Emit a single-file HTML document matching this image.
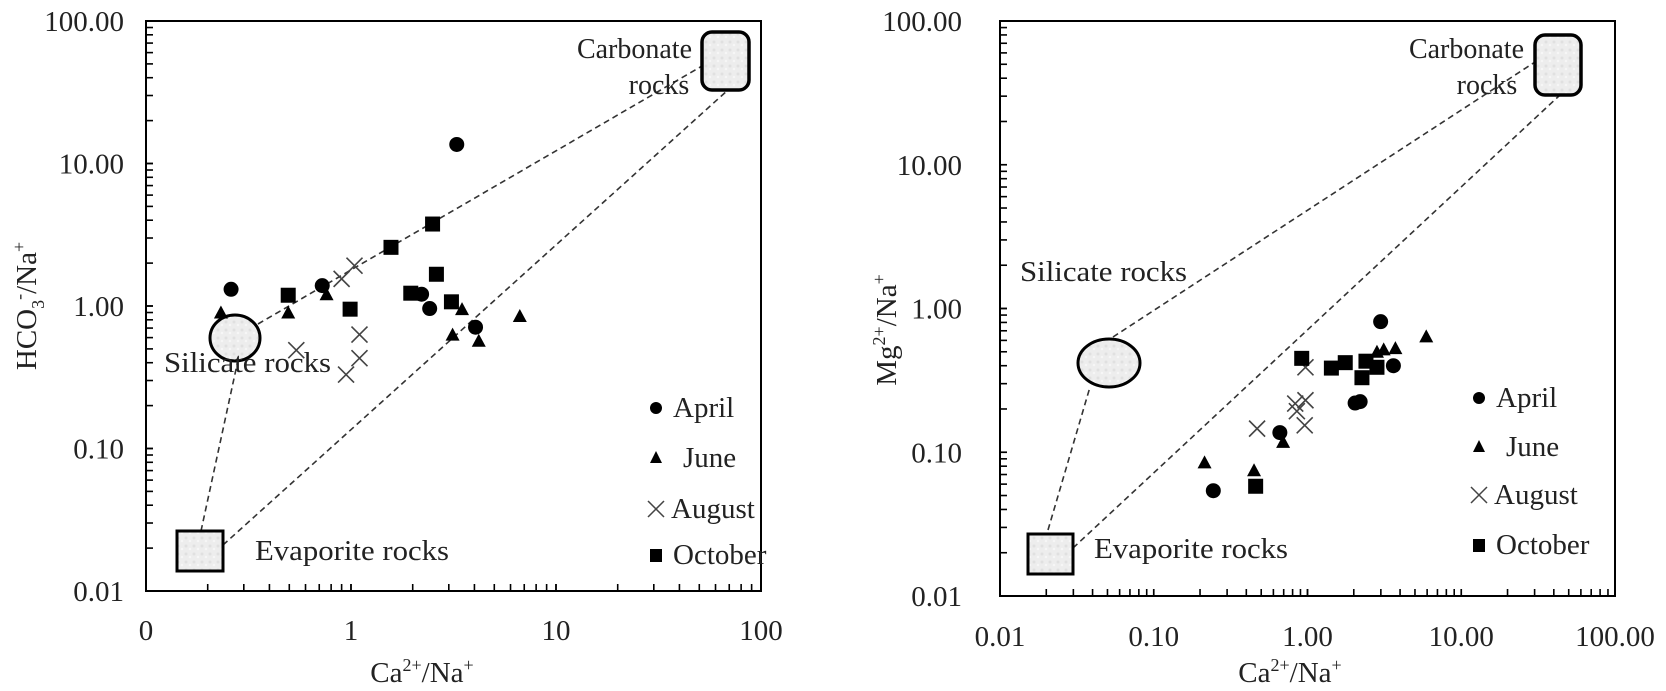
<!DOCTYPE html>
<html><head><meta charset="utf-8"><style>
html,body{margin:0;padding:0;background:#fff;}
svg{display:block;font-family:"Liberation Serif",serif;}
</style></head><body>
<svg id="chart" width="1666" height="691" viewBox="0 0 1666 691" xmlns="http://www.w3.org/2000/svg">
<defs>
<pattern id="mottle" width="8" height="8" patternUnits="userSpaceOnUse">
<rect width="8" height="8" fill="#ededed"/><circle cx="2" cy="2" r="1.5" fill="#e0e0e0"/><circle cx="6" cy="5" r="1.3" fill="#f6f6f6"/>
</pattern>
</defs>
</svg>
<script>
// ---- Left chart data (Ca/Na vs HCO3/Na)
const leftAprilX = [3.28, 0.26, 0.724, 2.21, 2.42, 4.05];
const leftAprilY = [13.6, 1.31, 1.39, 1.21, 0.96, 0.71];
const leftJuneX = [0.232, 0.494, 0.76, 3.48, 3.13, 4.2, 6.66];
const leftJuneY = [0.90, 0.90, 1.21, 0.95, 0.63, 0.57, 0.85];
const leftAugustX = [1.04, 0.90, 1.10, 0.541, 1.10, 0.946];
const leftAugustY = [1.92, 1.55, 0.63, 0.49, 0.43, 0.33];
const leftOctoberX = [0.494, 0.99, 1.567, 2.50, 2.61, 1.957, 3.09];
const leftOctoberY = [1.19, 0.95, 2.58, 3.76, 1.67, 1.23, 1.07];
const leftXTicks = [0.1, 1, 10, 100];
const leftXTickLabels = ["0", "1", "10", "100"];
const leftYTicks = [0.01, 0.1, 1, 10, 100];
const leftYTickLabels = ["0.01", "0.10", "1.00", "10.00", "100.00"];
// ---- Right chart data (Ca/Na vs Mg/Na)
const rightAprilX = [0.244, 0.661, 2.04, 2.20, 2.99, 3.62];
const rightAprilY = [0.054, 0.137, 0.22, 0.225, 0.81, 0.40];
const rightJuneX = [0.214, 0.449, 0.694, 2.83, 3.13, 3.73, 5.92];
const rightJuneY = [0.085, 0.075, 0.118, 0.50, 0.52, 0.53, 0.64];
const rightAugustX = [0.47, 0.832, 0.97, 0.853, 0.959, 0.97];
const rightAugustY = [0.146, 0.218, 0.23, 0.193, 0.154, 0.39];
const rightOctoberX = [0.46, 0.917, 1.43, 1.76, 2.26, 2.40, 2.83];
const rightOctoberY = [0.058, 0.45, 0.385, 0.42, 0.33, 0.43, 0.39];
const rightXTicks = [0.01, 0.1, 1, 10, 100];
const rightXTickLabels = ["0.01", "0.10", "1.00", "10.00", "100.00"];
const rightYTicks = [0.01, 0.1, 1, 10, 100];
const rightYTickLabels = ["0.01", "0.10", "1.00", "10.00", "100.00"];

const NS = "http://www.w3.org/2000/svg";
const svg = document.getElementById("chart");
function mk(tag, attrs, parent) {
  const e = document.createElementNS(NS, tag);
  for (const k in attrs) e.setAttribute(k, attrs[k]);
  (parent || svg).appendChild(e);
  return e;
}
function logScale(d0, d1, r0, r1) {
  const a = Math.log10(d0), b = Math.log10(d1);
  return v => r0 + (Math.log10(v) - a) / (b - a) * (r1 - r0);
}

function drawChart(cfg) {
  const g = mk("g", {});
  
  
  const sx = logScale(cfg.xd[0], cfg.xd[1], cfg.x0, cfg.x1);
  const sy = logScale(cfg.yd[0], cfg.yd[1], cfg.y1, cfg.y0);
  const fr = mk("rect", {x: cfg.x0, y: cfg.y0, width: cfg.x1 - cfg.x0, height: cfg.y1 - cfg.y0, fill: "none", stroke: "#000", "stroke-width": 2}, g);
  
  
  const ya = mk("g", {}, g);
  
  
  for (let d = Math.log10(cfg.yd[0]); d < Math.log10(cfg.yd[1]); d++) {
    for (let m = 1; m <= 10; m++) {
      const y = sy(m * Math.pow(10, d));
      mk("line", {x1: cfg.x0, x2: cfg.x0 + 7, y1: y, y2: y, stroke: "#000", "stroke-width": 1.6}, ya);
    }
  }
  cfg.yTicks.forEach((v, i) => {
    const t = mk("text", {x: cfg.yLabelX, y: sy(v) + 10, "text-anchor": "end", "font-size": 29, fill: "#222"}, ya);
    t.textContent = cfg.yTickLabels[i];
    
    
  });
  const xa = mk("g", {}, g);
  
  
  for (let d = Math.log10(cfg.xd[0]); d < Math.log10(cfg.xd[1]); d++) {
    for (let m = 1; m <= 10; m++) {
      const x = sx(m * Math.pow(10, d));
      mk("line", {x1: x, x2: x, y1: cfg.y1, y2: cfg.y1 - 7, stroke: "#000", "stroke-width": 1.6}, xa);
    }
  }
  cfg.xTicks.forEach((v, i) => {
    const t = mk("text", {x: sx(v), y: cfg.xLabelY, "text-anchor": "middle", "font-size": 29, fill: "#222"}, xa);
    t.textContent = cfg.xTickLabels[i];
    
    
  });
  const xt = mk("text", {x: cfg.xTitleX, y: 682, "text-anchor": "middle", "font-size": 29, fill: "#222"}, g);
  xt.innerHTML = 'Ca<tspan dy="-11" font-size="18">2+</tspan><tspan dy="11">/Na</tspan><tspan dy="-11" font-size="18">+</tspan>';
  
  
  const yt = mk("text", {x: 0, y: 0, "text-anchor": "middle", "font-size": 29, fill: "#222", transform: `translate(${cfg.yTitleX},${cfg.yTitleY}) rotate(-90)`}, g);
  yt.innerHTML = cfg.yTitle;
  
  
  const an = mk("g", {}, g);
  
  
  cfg.lines.forEach(l => {
    const ln = mk("line", {x1: l[0], y1: l[1], x2: l[2], y2: l[3], stroke: "#333", "stroke-width": 1.6, "stroke-dasharray": "6,4"}, an);
    
    
  });
  const c = cfg.carb, s = cfg.sil, ev = cfg.evap;
  const cr = mk("rect", {x: c[0], y: c[1], width: c[2], height: c[3], rx: 10, fill: "url(#mottle)", stroke: "#000", "stroke-width": 3.5}, an);
  
  
  const se = mk("ellipse", {cx: s[0], cy: s[1], rx: s[2], ry: s[3], fill: "url(#mottle)", stroke: "#000", "stroke-width": 3}, an);
  
  
  const er = mk("rect", {x: ev[0], y: ev[1], width: ev[2], height: ev[3], fill: "url(#mottle)", stroke: "#000", "stroke-width": 3}, an);
  
  
  cfg.labels.forEach(L => {
    const attrs = {x: L[1], y: L[2], "font-size": 28, fill: "#222", "text-anchor": L[4] || "start"};
    if (L[3]) { attrs.textLength = L[3]; attrs.lengthAdjust = "spacingAndGlyphs"; }
    const t = mk("text", attrs, an);
    t.textContent = L[0];
    
    
  });
  function marker(kind, x, y, parent) {
    let e;
    if (kind === "circle") e = mk("circle", {cx: x, cy: y, r: 7.5, fill: "#000"}, parent);
    else if (kind === "square") e = mk("rect", {x: x - 7.5, y: y - 7.5, width: 15, height: 15, fill: "#000"}, parent);
    else if (kind === "triangle") e = mk("polygon", {points: `${x},${y - 7} ${x - 7},${y + 6} ${x + 7},${y + 6}`, fill: "#000"}, parent);
    else e = mk("path", {d: `M${x - 8},${y - 8}L${x + 8},${y + 8}M${x - 8},${y + 8}L${x + 8},${y - 8}`, stroke: "#444", "stroke-width": 1.6, fill: "none"}, parent);
    return e;
  }
  cfg.series.forEach(S => {
    const sg = mk("g", {}, g);
    
    
    S.xs.forEach((xv, i) => {
      const m = marker(S.kind, sx(xv), sy(S.ys[i]), sg);
      
      
    });
  });
  const lg = mk("g", {}, g);
  
  
  cfg.series.forEach((S, i) => {
    const by = cfg.legendY[i];
    const eg = mk("g", {}, lg);
    
    
    if (S.kind === "circle") mk("circle", {cx: cfg.legendX, cy: by - 9, r: 6, fill: "#000"}, eg);
    else if (S.kind === "square") mk("rect", {x: cfg.legendX - 6, y: by - 15, width: 12, height: 13, fill: "#000"}, eg);
    else if (S.kind === "triangle") mk("polygon", {points: `${cfg.legendX},${by - 16} ${cfg.legendX - 6},${by - 4} ${cfg.legendX + 6},${by - 4}`, fill: "#000"}, eg);
    else mk("path", {d: `M${cfg.legendX - 8},${by - 17}L${cfg.legendX + 8},${by - 1}M${cfg.legendX - 8},${by - 1}L${cfg.legendX + 8},${by - 17}`, stroke: "#444", "stroke-width": 1.5}, eg);
    const t = mk("text", {x: cfg.legendX + S.dx, y: by, "font-size": 29, fill: "#222"}, eg);
    t.textContent = S.label;
  });
}

const seriesDefs = (ax, ay, jx, jy, gx, gy, ox, oy) => [
  {name: "april", label: "April", kind: "circle", xs: ax, ys: ay, dx: 17},
  {name: "june", label: "June", kind: "triangle", xs: jx, ys: jy, dx: 27},
  {name: "august", label: "August", kind: "cross", xs: gx, ys: gy, dx: 15},
  {name: "october", label: "October", kind: "square", xs: ox, ys: oy, dx: 17}
];

drawChart({
  name: "left-chart-hco3", x0: 146, x1: 761, y0: 21, y1: 591,
  xd: [0.1, 100], yd: [0.01, 100],
  xTicks: leftXTicks, xTickLabels: leftXTickLabels, yTicks: leftYTicks, yTickLabels: leftYTickLabels,
  yLabelX: 124, xLabelY: 640, xTitleX: 422, yTitleX: 36, yTitleY: 306,
  yTitle: 'HCO<tspan dy="8" font-size="18">3</tspan><tspan dy="-19" font-size="18">-</tspan><tspan dy="11">/Na</tspan><tspan dy="-11" font-size="18">+</tspan>',
  lines: [[201, 531, 238, 360], [258, 324, 702, 66], [223, 545, 728, 90]],
  carb: [702, 32, 47, 58], sil: [235, 338, 25, 23], evap: [177, 531, 46, 40],
  labels: [["Carbonate", 692, 58, 0, "end", "carbonate-rocks-label"], ["rocks", 659, 94, 0, "middle", "carbonate-rocks-label"],
           ["Silicate rocks", 164, 372, 167, "start", "silicate-rocks-label"], ["Evaporite rocks", 255, 560, 194, "start", "evaporite-rocks-label"]],
  legendX: 656, legendY: [417, 467, 518, 564],
  series: seriesDefs(leftAprilX, leftAprilY, leftJuneX, leftJuneY, leftAugustX, leftAugustY, leftOctoberX, leftOctoberY)
});

drawChart({
  name: "right-chart-mg", x0: 1000, x1: 1615, y0: 21, y1: 596,
  xd: [0.01, 100], yd: [0.01, 100],
  xTicks: rightXTicks, xTickLabels: rightXTickLabels, yTicks: rightYTicks, yTickLabels: rightYTickLabels,
  yLabelX: 962, xLabelY: 646, xTitleX: 1290, yTitleX: 896, yTitleY: 330,
  yTitle: 'Mg<tspan dy="-11" font-size="18">2+</tspan><tspan dy="11">/Na</tspan><tspan dy="-11" font-size="18">+</tspan>',
  lines: [[1048, 530, 1090, 387], [1113, 337, 1535, 62], [1073, 548, 1560, 95]],
  carb: [1535, 35, 46, 60], sil: [1109, 363, 31, 24], evap: [1028, 534, 45, 40],
  labels: [["Carbonate", 1524, 58, 0, "end", "carbonate-rocks-label"], ["rocks", 1487, 94, 0, "middle", "carbonate-rocks-label"],
           ["Silicate rocks", 1020, 281, 167, "start", "silicate-rocks-label"], ["Evaporite rocks", 1094, 558, 194, "start", "evaporite-rocks-label"]],
  legendX: 1479, legendY: [407, 456, 504, 554],
  series: seriesDefs(rightAprilX, rightAprilY, rightJuneX, rightJuneY, rightAugustX, rightAugustY, rightOctoberX, rightOctoberY)
});
</script>
</body></html>
